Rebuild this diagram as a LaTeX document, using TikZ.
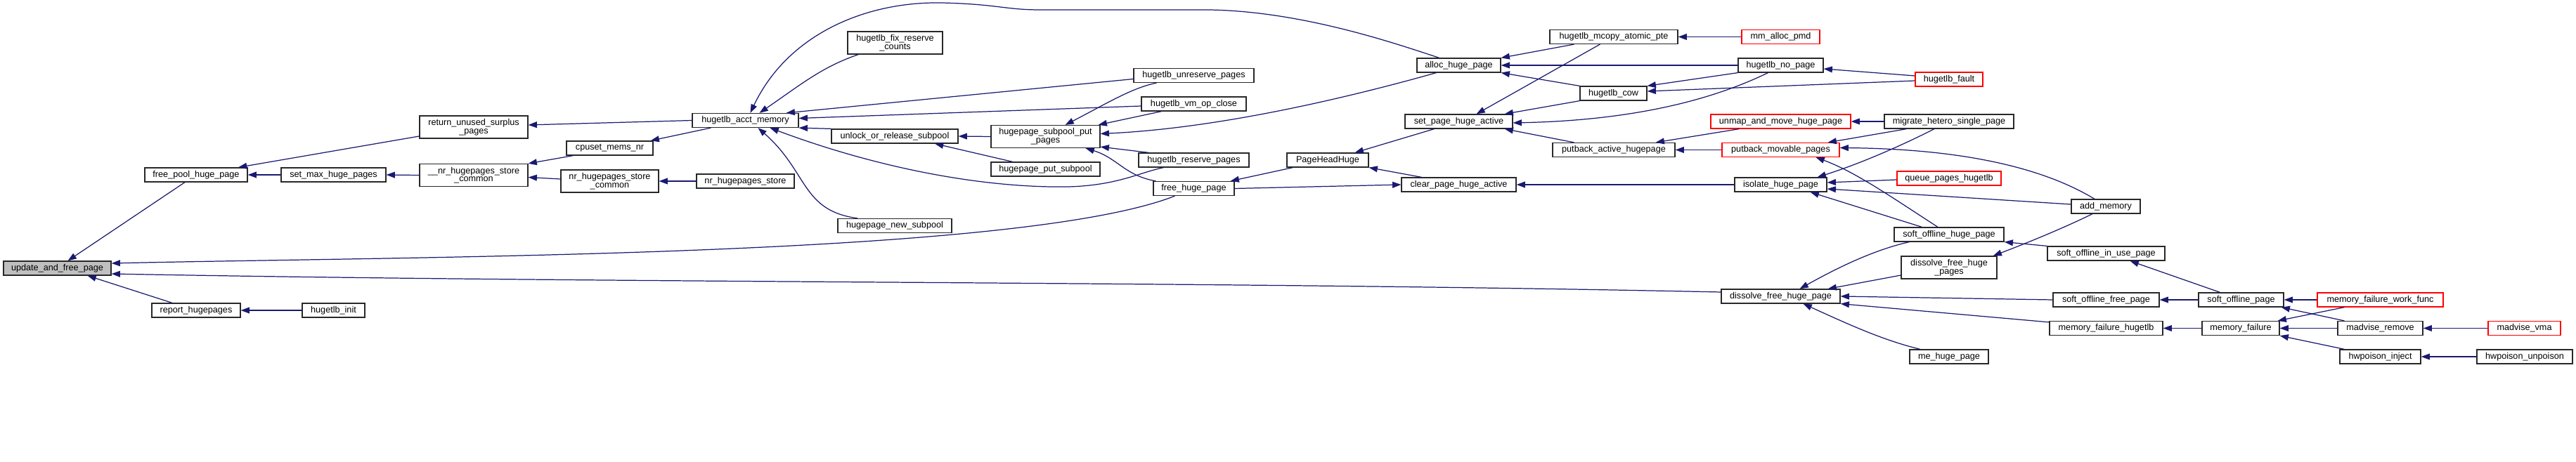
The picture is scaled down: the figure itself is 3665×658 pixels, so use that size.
\documentclass[tikz,border=0pt]{standalone}
\usepackage{fontspec}
\setmainfont{Liberation Sans}
\usetikzlibrary{arrows.meta}
\definecolor{EdgeBlue}{RGB}{25,25,112}
\definecolor{BoxGray}{RGB}{191,191,191}
\definecolor{BoxLine}{RGB}{40,40,40}
\tikzset{
  fn/.style={draw=BoxLine,fill=white,line width=0.7pt,minimum height=0.4cm,
    inner sep=1pt,align=center,font=\fontsize{7.2}{6.6}\selectfont},
  fntwo/.style={fn,minimum height=0.64cm},
  fnred/.style={fn,draw=red},
  fnsel/.style={fn,fill=BoxGray},
  call/.style={{Triangle[length=7pt,width=5pt]}-,line width=0.7pt,EdgeBlue}
}

\begin{document}
\begin{tikzpicture}[x=0.02cm,y=-0.02cm]
  \useasboundingbox (0,0) rectangle (3665,658);
  \node[fnsel,minimum width=3.06cm] (ufp) at (81.5,382) {update\_and\_free\_page};
  \node[fn,minimum width=2.92cm] (fphp) at (279,249) {free\_pool\_huge\_page};
  \node[fn,minimum width=2.52cm] (rhp) at (279,442) {report\_hugepages};
  \node[fn,minimum width=2.98cm] (smhp) at (474.5,249) {set\_max\_huge\_pages};
  \node[fn,minimum width=1.78cm] (hinit) at (474.5,442) {hugetlb\_init};
  \node[fntwo,minimum width=3.08cm] (russ) at (674,181) {return\_unused\_surplus\\\_pages};
  \node[fntwo,minimum width=3.08cm] (nhsc) at (674,249.5) {\_\_nr\_hugepages\_store\\\_common};
  \node[fn,minimum width=2.46cm] (cmn) at (867.5,211) {cpuset\_mems\_nr};
  \node[fntwo,minimum width=2.78cm] (nrhsc) at (867.5,258) {nr\_hugepages\_store\\\_common};
  \node[fn,minimum width=2.78cm] (nrhs) at (1060.5,258) {nr\_hugepages\_store};
  \node[fn,minimum width=3.02cm] (ham) at (1060.5,171.5) {hugetlb\_acct\_memory};
  \node[fntwo,minimum width=2.70cm] (hfrc) at (1273.5,61) {hugetlb\_fix\_reserve\\\_counts};
  \node[fn,minimum width=3.60cm] (uors) at (1273,194) {unlock\_or\_release\_subpool};
  \node[fn,minimum width=3.24cm] (hns) at (1273,321.5) {hugepage\_new\_subpool};
  \node[fntwo,minimum width=3.10cm] (hspp) at (1487.5,194.5) {hugepage\_subpool\_put\\\_pages};
  \node[fn,minimum width=3.10cm] (hps) at (1487.5,241) {hugepage\_put\_subpool};
  \node[fn,minimum width=3.42cm] (hurp) at (1698.5,107.5) {hugetlb\_unreserve\_pages};
  \node[fn,minimum width=2.98cm] (hvoc) at (1698.5,148) {hugetlb\_vm\_op\_close};
  \node[fn,minimum width=3.14cm] (hrp) at (1698.5,228) {hugetlb\_reserve\_pages};
  \node[fn,minimum width=2.30cm] (fhp) at (1698.5,268.5) {free\_huge\_page};
  \node[fn,minimum width=2.38cm] (ahp) at (2075.5,93) {alloc\_huge\_page};
  \node[fn,minimum width=3.06cm] (sphha) at (2075.5,173) {set\_page\_huge\_active};
  \node[fn,minimum width=2.32cm] (phh) at (1889,228) {PageHeadHuge};
  \node[fn,minimum width=3.26cm] (cpha) at (2075.5,263) {clear\_page\_huge\_active};
  \node[fn,minimum width=3.64cm] (hmap) at (2296,52.5) {hugetlb\_mcopy\_atomic\_pte};
  \node[fn,minimum width=1.90cm] (hcow) at (2295.5,133) {hugetlb\_cow};
  \node[fn,minimum width=3.48cm] (paha) at (2296,213.5) {putback\_active\_hugepage};
  \node[fnred,minimum width=2.22cm] (map) at (2533.5,52.5) {mm\_alloc\_pmd};
  \node[fn,minimum width=2.42cm] (hnp) at (2533.5,93) {hugetlb\_no\_page};
  \node[fnred,minimum width=3.98cm] (umhp) at (2533.5,173) {unmap\_and\_move\_huge\_page};
  \node[fnred,minimum width=3.34cm] (pmp) at (2533.5,213.5) {putback\_movable\_pages};
  \node[fn,minimum width=2.62cm] (ihp) at (2533.5,263) {isolate\_huge\_page};
  \node[fn,minimum width=3.38cm] (dfhp) at (2533.5,422) {dissolve\_free\_huge\_page};
  \node[fnred,minimum width=1.92cm] (hf) at (2773,113) {hugetlb\_fault};
  \node[fn,minimum width=3.68cm] (mhsp) at (2773,173) {migrate\_hetero\_single\_page};
  \node[fnred,minimum width=2.96cm] (qph) at (2773,254) {queue\_pages\_hugetlb};
  \node[fn,minimum width=3.12cm] (sohp) at (2773,334) {soft\_offline\_huge\_page};
  \node[fntwo,minimum width=2.72cm] (dfhps) at (2773,381) {dissolve\_free\_huge\\\_pages};
  \node[fn,minimum width=2.24cm] (mhp) at (2773,508) {me\_huge\_page};
  \node[fn,minimum width=1.96cm] (am) at (2996,294) {add\_memory};
  \node[fn,minimum width=3.34cm] (soiup) at (2996.5,361) {soft\_offline\_in\_use\_page};
  \node[fn,minimum width=3.02cm] (sofp) at (2996.5,427) {soft\_offline\_free\_page};
  \node[fn,minimum width=3.22cm] (mfh) at (2996.5,467.5) {memory\_failure\_hugetlb};
  \node[fn,minimum width=2.42cm] (sop) at (3188.5,427) {soft\_offline\_page};
  \node[fn,minimum width=2.20cm] (mf) at (3188,467.5) {memory\_failure};
  \node[fnred,minimum width=3.58cm] (mfwf) at (3386.5,427) {memory\_failure\_work\_func};
  \node[fn,minimum width=2.42cm] (mr) at (3386.5,467.5) {madvise\_remove};
  \node[fnred,minimum width=2.06cm] (mv) at (3591.5,467.5) {madvise\_vma};
  \node[fn,minimum width=2.30cm] (hi) at (3386.5,508) {hwpoison\_inject};
  \node[fn,minimum width=2.72cm] (hu) at (3592,508) {hwpoison\_unpoison};

  \draw[call] ([shift={(15,0)}]ufp.north) -- ([shift={(-16,0)}]fphp.south);
  \draw[call] ([shift={(0,-7)}]ufp.east) .. controls (600,365) and (1450,366) .. ([shift={(-27,0)}]fhp.south);
  \draw[call] ([shift={(0,8)}]ufp.east) .. controls (900,404) and (1700,400) .. ([shift={(0,-6)}]dfhp.west);
  \draw[call] ([shift={(43,0)}]ufp.south) -- ([shift={(-34,0)}]rhp.north);
  \draw[call] (fphp.east) -- (smhp.west);
  \draw[call] ([shift={(60,0)}]fphp.north) -- ([shift={(0,13)}]russ.west);
  \draw[call] (smhp.east) -- (nhsc.west);
  \draw[call] (nhsc.north east) -- ([shift={(10,0)}]cmn.south west);
  \draw[call] ([shift={(0,3)}]nhsc.east) -- ([shift={(0,-3)}]nrhsc.west);
  \draw[call] (nrhsc.east) -- (nrhs.west);
  \draw[call] ([shift={(-4,0)}]cmn.north east) -- ([shift={(27,0)}]ham.south west);
  \draw[call] ([shift={(0,-3)}]russ.east) -- (ham.west);
  \draw[call] (rhp.east) -- (hinit.west);
  \draw[call] ([shift={(7,0)}]ham.north) .. controls (1120,50) and (1230,2) .. (1340,4)
    .. controls (1420,6) and (1430,14) .. (1480,14) -- (1720,14)
    .. controls (1850,16) and (1980,60) .. ([shift={(-28,0)}]ahp.north);
  \draw[call] ([shift={(20,0)}]ham.north) .. controls (1140,120) and (1170,95) .. ([shift={(16,0)}]hfrc.south west);
  \draw[call] ([shift={(-18,0)}]ham.north east) -- ([shift={(0,5)}]hurp.west);
  \draw[call] ([shift={(0,-3)}]ham.east) -- ([shift={(0,3)}]hvoc.west);
  \draw[call] (ham.south east) -- (uors.north west);
  \draw[call] ([shift={(35,0)}]ham.south) .. controls (1250,240) and (1400,268) .. (1520,266)
    .. controls (1590,264) and (1620,246) .. ([shift={(-43,0)}]hrp.south);
  \draw[call] ([shift={(18,0)}]ham.south) .. controls (1150,245) and (1140,300) .. ([shift={(-53,0)}]hns.north);
  \draw[call] (uors.east) -- (hspp.west);
  \draw[call] ([shift={(57,0)}]uors.south) -- ([shift={(-47,0)}]hps.north);
  \draw[call] ([shift={(28,0)}]hspp.north) .. controls (1570,150) and (1610,125) .. ([shift={(-53,0)}]hurp.south);
  \draw[call] ([shift={(-3,0)}]hspp.north east) -- ([shift={(-46,0)}]hvoc.south);
  \draw[call] ([shift={(0,-4)}]hspp.east) .. controls (1750,182) and (1950,130) .. ([shift={(-32,0)}]ahp.south);
  \draw[call] ([shift={(0,-2)}]hspp.south east) -- ([shift={(15,0)}]hrp.north west);
  \draw[call] ([shift={(57,0)}]hspp.south) .. controls (1590,225) and (1600,250) .. ([shift={(4,0)}]fhp.north west);
  \draw[call] ([shift={(-6,0)}]fhp.north east) -- ([shift={(9,0)}]phh.south west);
  \draw[call] (cpha.west) -- (fhp.east);
  \draw[call] ([shift={(-20,0)}]phh.north east) -- ([shift={(-35,0)}]sphha.south);
  \draw[call] (phh.south east) -- ([shift={(-53,0)}]cpha.north);
  \draw[call] (ahp.north east) -- ([shift={(35,0)}]hmap.south west);
  \draw[call] (ahp.east) -- (hnp.west);
  \draw[call] (ahp.south east) -- (hcow.north west);
  \draw[call] ([shift={(25,0)}]sphha.north) -- ([shift={(72,0)}]hmap.south west);
  \draw[call] ([shift={(-12,0)}]sphha.north east) -- (hcow.south west);
  \draw[call] ([shift={(0,2)}]sphha.east) .. controls (2300,172) and (2420,150) .. ([shift={(-18,0)}]hnp.south);
  \draw[call] ([shift={(-12,0)}]sphha.south east) -- ([shift={(31,0)}]paha.north west);
  \draw[call] (cpha.east) -- (ihp.west);
  \draw[call] (hmap.east) -- (map.west);
  \draw[call] (hcow.north east) -- (hnp.south west);
  \draw[call] ([shift={(0,-3)}]hcow.east) -- ([shift={(0,2)}]hf.west);
  \draw[call] ([shift={(0,5)}]hnp.east) -- ([shift={(0,-5)}]hf.west);
  \draw[call] ([shift={(-28,0)}]paha.north east) -- ([shift={(41,0)}]umhp.south west);
  \draw[call] (paha.east) -- (pmp.west);
  \draw[call] (umhp.east) -- (mhsp.west);
  \draw[call] ([shift={(-17,0)}]pmp.north east) -- ([shift={(32,0)}]mhsp.south west);
  \draw[call] ([shift={(0,-3)}]pmp.east) .. controls (2780,212) and (2900,235) .. ([shift={(-16,0)}]am.north);
  \draw[call] ([shift={(50,0)}]pmp.south) .. controls (2640,245) and (2690,280) .. ([shift={(-16,0)}]sohp.north);
  \draw[call] ([shift={(-14,0)}]ihp.north east) .. controls (2650,232) and (2710,205) .. ([shift={(-21,0)}]mhsp.south);
  \draw[call] ([shift={(0,-3)}]ihp.east) -- ([shift={(0,2)}]qph.west);
  \draw[call] ([shift={(0,6)}]ihp.east) -- ([shift={(0,-3)}]am.west);
  \draw[call] ([shift={(-24,0)}]ihp.south east) -- ([shift={(40,0)}]sohp.north west);
  \draw[call] ([shift={(27,0)}]dfhp.north) .. controls (2620,378) and (2670,355) .. ([shift={(22,0)}]sohp.south west);
  \draw[call] ([shift={(-18,0)}]dfhp.north east) -- ([shift={(0,11)}]dfhps.west);
  \draw[call] (dfhp.east) -- (sofp.west);
  \draw[call] (dfhp.south east) -- ([shift={(0,2)}]mfh.north west);
  \draw[call] ([shift={(32,0)}]dfhp.south) .. controls (2630,462) and (2680,485) .. ([shift={(-41,0)}]mhp.north);
  \draw[call] (sohp.south east) -- (soiup.north west);
  \draw[call] ([shift={(-6,0)}]dfhps.north east) .. controls (2900,340) and (2950,318) .. ([shift={(-19,0)}]am.south);
  \draw[call] ([shift={(34,0)}]soiup.south) -- ([shift={(-30,0)}]sop.north);
  \draw[call] (sofp.east) -- (sop.west);
  \draw[call] (mfh.east) -- (mf.west);
  \draw[call] (sop.east) -- (mfwf.west);
  \draw[call] ([shift={(-4,0)}]sop.south east) -- ([shift={(10,0)}]mr.north west);
  \draw[call] ([shift={(-3,0)}]mf.north east) -- ([shift={(39,0)}]mfwf.south west);
  \draw[call] (mf.east) -- (mr.west);
  \draw[call] (mf.south east) -- ([shift={(7,0)}]hi.north west);
  \draw[call] (mr.east) -- (mv.west);
  \draw[call] (hi.east) -- (hu.west);
\end{tikzpicture}
\end{document}
